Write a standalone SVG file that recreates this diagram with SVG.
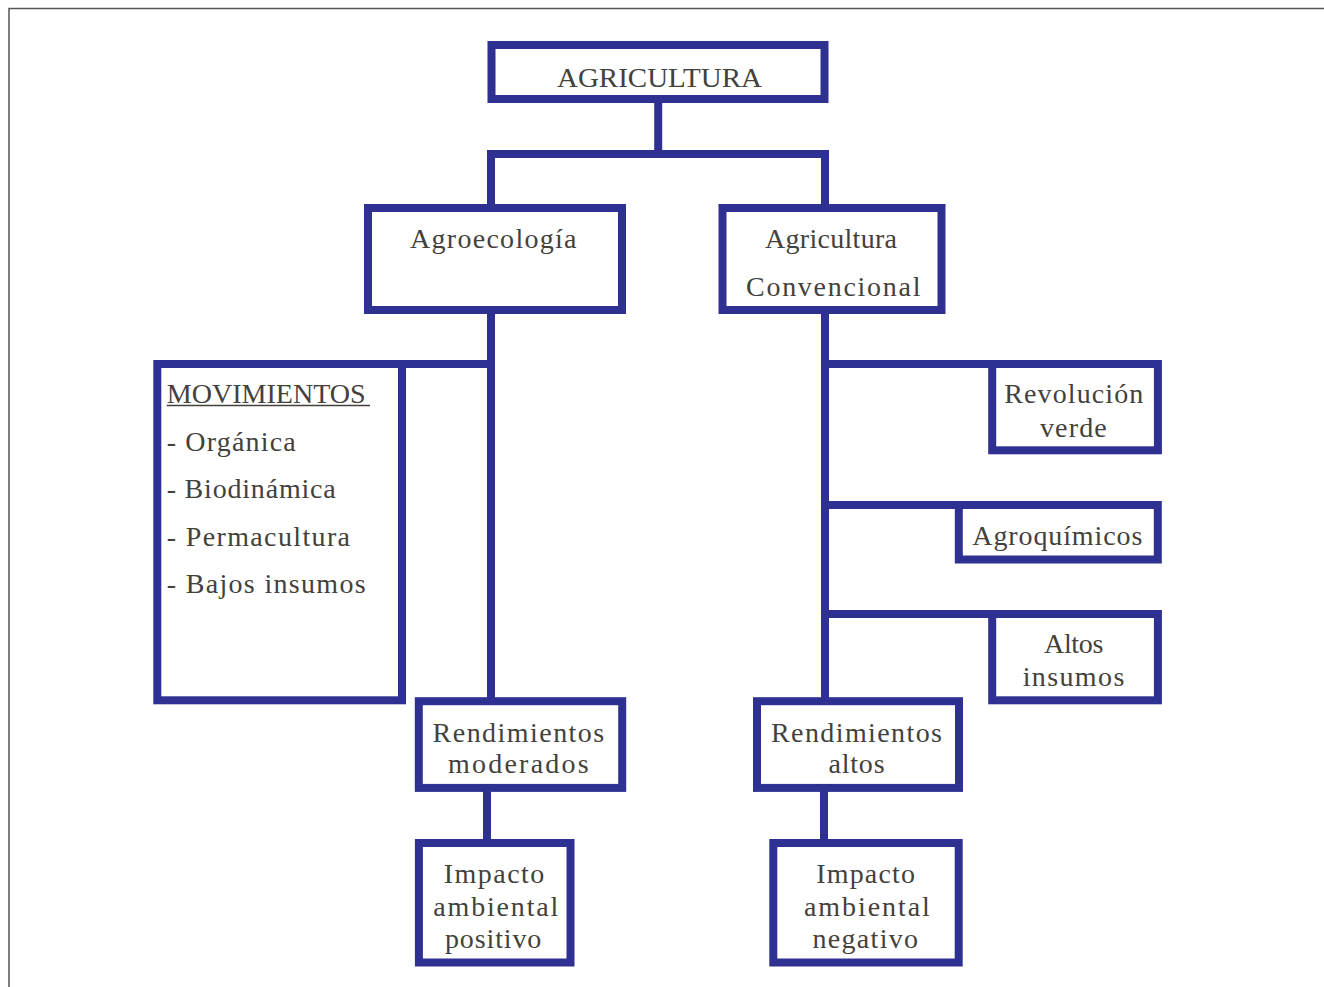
<svg xmlns="http://www.w3.org/2000/svg" width="1324" height="987" viewBox="0 0 1324 987">
<style>
.box{fill:#ffffff;stroke:#2e3192;stroke-width:8;stroke-linejoin:miter}
.con{fill:none;stroke:#2e3192;stroke-width:8;stroke-linejoin:miter;stroke-linecap:butt}
.t{font-family:"Liberation Serif","Times New Roman",serif;font-size:28px;fill:#43413c}
.frame{fill:none;stroke:#555555;stroke-width:1.5}
</style>
<rect width="1324" height="987" fill="#ffffff"/>
<path class="frame" d="M9,987 V8.5 H1324"/>
<g id="connectors">
<line class="con" x1="658.2" y1="102" x2="658.2" y2="154"/>
<polyline class="con" points="491,208 491,154 825,154 825,208"/>
<line class="con" x1="491" y1="310" x2="491" y2="702"/>
<line class="con" x1="401" y1="364" x2="491" y2="364"/>
<line class="con" x1="825" y1="310" x2="825" y2="702"/>
<line class="con" x1="825" y1="364" x2="993" y2="364"/>
<line class="con" x1="825" y1="505" x2="960" y2="505"/>
<line class="con" x1="825" y1="614" x2="993" y2="614"/>
<line class="con" x1="487" y1="788" x2="487" y2="844"/>
<line class="con" x1="824" y1="788" x2="824" y2="844"/>
</g>
<g id="agricultura">
<rect class="box" x="491.5" y="45" width="333" height="54"/>
<text class="t" x="557" y="86.5" font-size="29" textLength="205" lengthAdjust="spacingAndGlyphs">AGRICULTURA</text>
</g>
<g id="agroecologia">
<rect class="box" x="368" y="208" width="254" height="102"/>
<text class="t" x="410" y="248.3" textLength="166.5" lengthAdjust="spacing">Agroecología</text>
</g>
<g id="convencional">
<rect class="box" x="722.5" y="208" width="219" height="102"/>
<text class="t" x="765" y="248.3" textLength="132" lengthAdjust="spacing">Agricultura</text>
<text class="t" x="746" y="296" textLength="174.5" lengthAdjust="spacing">Convencional</text>
</g>
<g id="movimientos">
<rect class="box" x="157.3" y="364" width="244.7" height="336.3"/>
<text class="t" x="166.7" y="403.3" textLength="199" lengthAdjust="spacingAndGlyphs">MOVIMIENTOS</text>
<line x1="166.7" y1="405.5" x2="370" y2="405.5" stroke="#43413c" stroke-width="1.5"/>
<text class="t" x="166.7" y="450.5" textLength="129" lengthAdjust="spacing">- Orgánica</text>
<text class="t" x="166.7" y="498.3" textLength="169" lengthAdjust="spacing">- Biodinámica</text>
<text class="t" x="166.7" y="545.7" textLength="183.3" lengthAdjust="spacing">- Permacultura</text>
<text class="t" x="166.7" y="592.7" textLength="199" lengthAdjust="spacing">- Bajos insumos</text>
</g>
<g id="revolucion">
<rect class="box" x="992.2" y="364" width="165.7" height="86.3"/>
<text class="t" x="1004.3" y="403.3" textLength="139" lengthAdjust="spacing">Revolución</text>
<text class="t" x="1040" y="436.7" textLength="66.7" lengthAdjust="spacing">verde</text>
</g>
<g id="agroquimicos">
<rect class="box" x="958.8" y="505" width="199" height="54.5"/>
<text class="t" x="972.3" y="545" textLength="170" lengthAdjust="spacing">Agroquímicos</text>
</g>
<g id="altos-insumos">
<rect class="box" x="992.2" y="614" width="165.7" height="86.3"/>
<text class="t" x="1044" y="653.3" textLength="59.3" lengthAdjust="spacing">Altos</text>
<text class="t" x="1022.7" y="686" textLength="101.6" lengthAdjust="spacing">insumos</text>
</g>
<g id="rend-moderados">
<rect class="box" x="418.8" y="701.2" width="203.4" height="86.7"/>
<text class="t" x="432.6" y="741.7" textLength="171.6" lengthAdjust="spacing">Rendimientos</text>
<text class="t" x="448" y="773.3" textLength="140.7" lengthAdjust="spacing">moderados</text>
</g>
<g id="rend-altos">
<rect class="box" x="757" y="701.2" width="202" height="86.7"/>
<text class="t" x="771" y="741.7" textLength="171" lengthAdjust="spacing">Rendimientos</text>
<text class="t" x="828.4" y="773.3" textLength="56.2" lengthAdjust="spacing">altos</text>
</g>
<g id="impacto-positivo">
<rect class="box" x="418.9" y="843" width="151.6" height="119.5"/>
<text class="t" x="443.7" y="882.7" textLength="100.6" lengthAdjust="spacing">Impacto</text>
<text class="t" x="433.3" y="916" textLength="125" lengthAdjust="spacing">ambiental</text>
<text class="t" x="445" y="948.3" textLength="96.3" lengthAdjust="spacing">positivo</text>
</g>
<g id="impacto-negativo">
<rect class="box" x="773.3" y="843" width="185.4" height="119.5"/>
<text class="t" x="816.2" y="882.7" textLength="98.8" lengthAdjust="spacing">Impacto</text>
<text class="t" x="804" y="916" textLength="125.8" lengthAdjust="spacing">ambiental</text>
<text class="t" x="812.5" y="948.3" textLength="105.5" lengthAdjust="spacing">negativo</text>
</g>
</svg>
